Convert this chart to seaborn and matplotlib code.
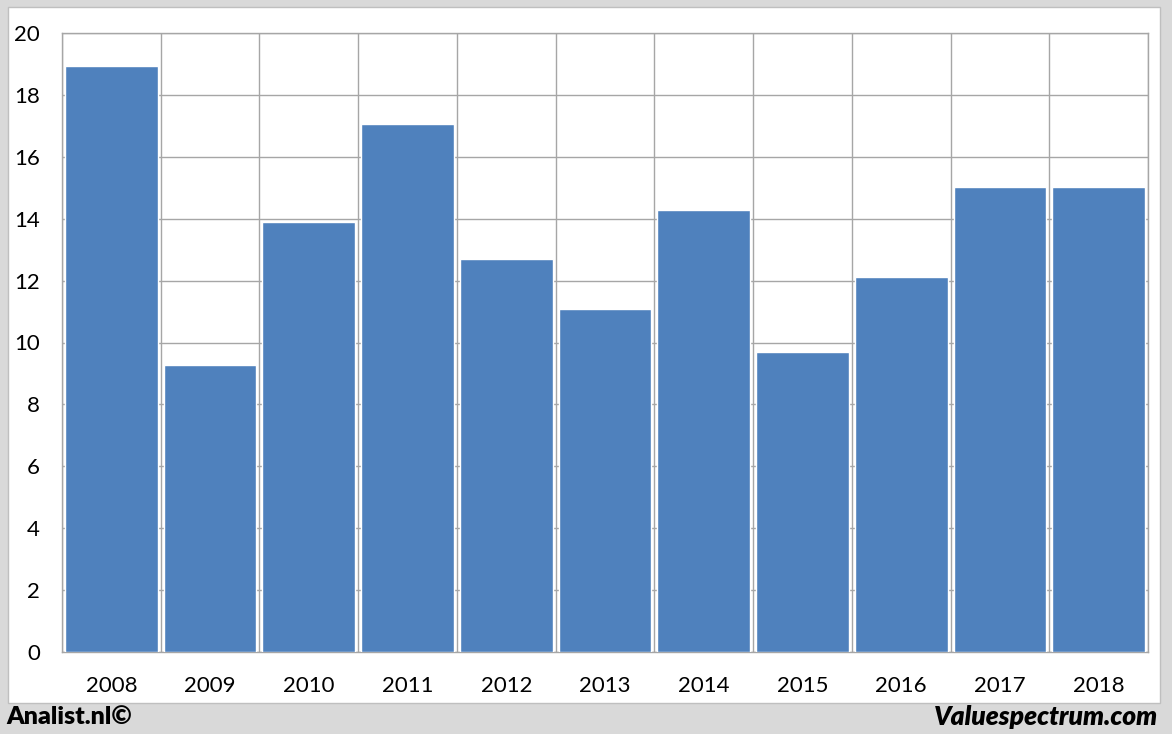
import matplotlib
matplotlib.use("Agg")
import matplotlib.pyplot as plt
import seaborn as sns
import pandas as pd
from matplotlib.patches import Rectangle

# chart data
years = ["2008", "2009", "2010", "2011", "2012", "2013",
         "2014", "2015", "2016", "2017", "2018"]
values = [18.93, 9.27, 13.89, 17.06, 12.70, 11.08,
          14.28, 9.69, 12.12, 15.02, 15.02]
y_ticks = [0, 2, 4, 6, 8, 10, 12, 14, 16, 18, 20]

df = pd.DataFrame({"year": years, "value": values})

sns.set_style("white")
plt.rcParams["font.family"] = ["Lato", "DejaVu Sans"]
plt.rcParams["text.color"] = "black"
plt.rcParams["xtick.labelcolor"] = "black"
plt.rcParams["ytick.labelcolor"] = "black"

W, H = 1172, 734
fig = plt.figure(figsize=(W / 100, H / 100), dpi=100)
fig.patch.set_facecolor("#d9d9d9")

# white inner panel (behind the axes)
panel = Rectangle((8 / W, (H - 703) / H), (1160 - 8) / W, (703 - 7) / H,
                  transform=fig.transFigure, facecolor="white",
                  edgecolor="#bfbfbf", linewidth=1, zorder=-5)
fig.patches.append(panel)

ax = fig.add_axes([62 / W, (H - 652) / H, (1148 - 62) / W, (652 - 33) / H])
ax.set_zorder(1)
ax.set_facecolor("white")

sns.barplot(data=df, x="year", y="value", order=years, color="#4f81bd",
            saturation=1, width=0.94, edgecolor="white", linewidth=1, ax=ax, zorder=3)

grid_col = "#a6a6a6"
ax.set_xlim(-0.5, len(years) - 0.5)
ax.set_ylim(0, 20)
ax.set_yticks(y_ticks)
ax.set_yticklabels([str(t) for t in y_ticks], fontsize=16)
ax.set_xticks(range(len(years)))
ax.set_xticklabels(years, fontsize=16)
ax.set_xticks([i - 0.5 for i in range(len(years) + 1)], minor=True)

ax.yaxis.grid(True, color=grid_col, linewidth=1)
ax.xaxis.grid(True, which="minor", color=grid_col, linewidth=1)
ax.set_axisbelow(True)

ax.tick_params(axis="x", which="major", length=0, pad=17)
ax.tick_params(axis="x", which="minor", length=8, color=grid_col, width=1)
ax.tick_params(axis="y", length=8, color=grid_col, width=1, pad=8)
for s in ax.spines.values():
    s.set_color(grid_col)
    s.set_linewidth(1)

ax.set_xlabel("")
ax.set_ylabel("")

# footer texts
fig.text(6 / W, (H - 717) / H, "Analist.nl©", fontsize=18, fontweight="heavy",
         color="black", ha="left", va="center")
fig.text(1158 / W, (H - 717) / H, "Valuespectrum.com", fontsize=19,
         fontweight="heavy", fontstyle="italic", color="black",
         ha="right", va="center")

fig.savefig("out.png", dpi=100, facecolor=fig.get_facecolor())
